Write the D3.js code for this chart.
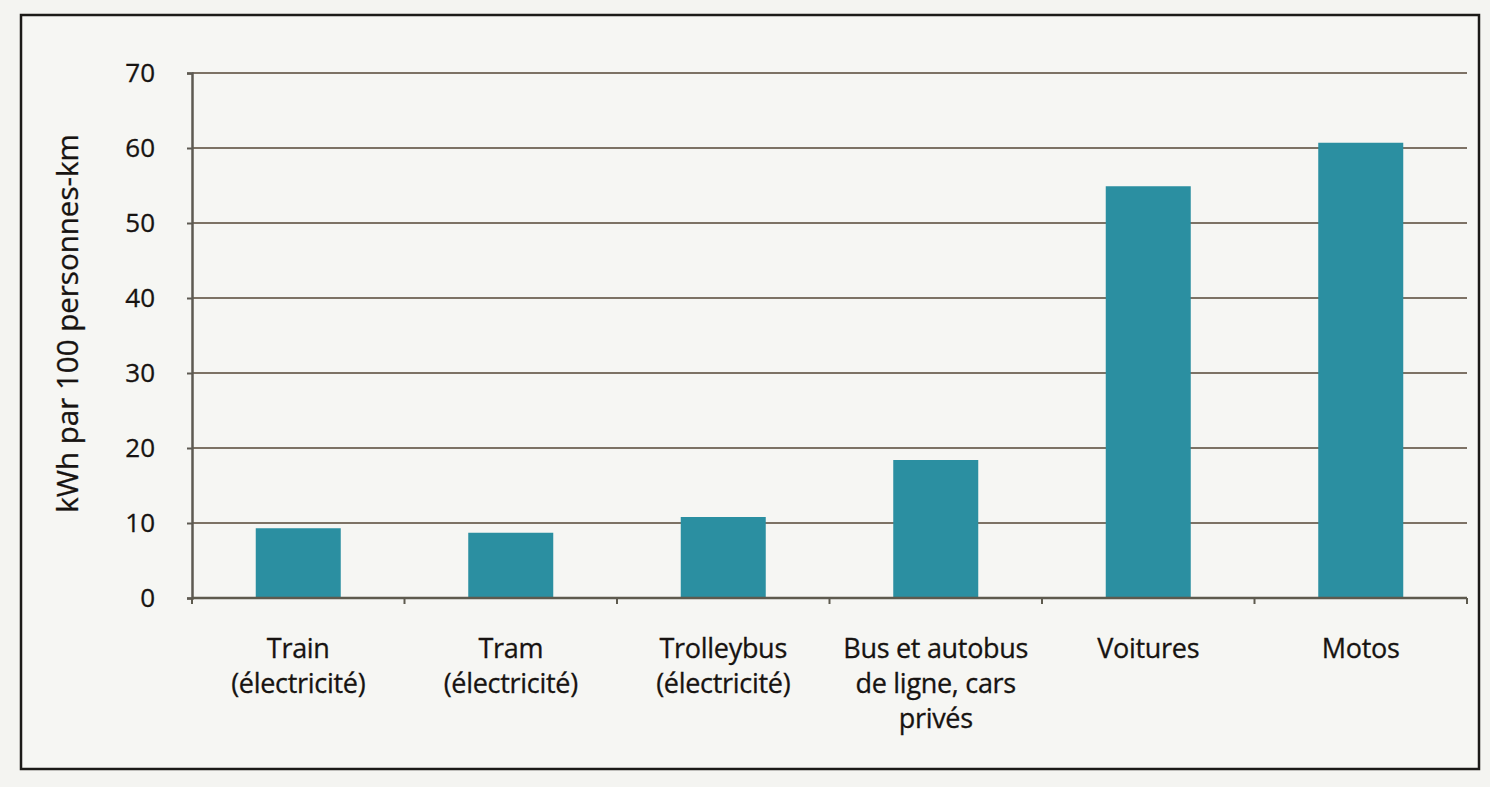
<!DOCTYPE html>
<html>
<head>
<meta charset="utf-8">
<script src="https://cdn.jsdelivr.net/npm/d3@7"></script>
<style>
  body { margin: 0; background: #f4f4f1; }
  svg { display: block; }
  text { font-family: "Open Sans", "Noto Sans", sans-serif; fill: #171311; }
</style>
</head>
<body>
<svg width="1490" height="787"></svg>
<script>
// data
var categories = ["Train|(électricité)", "Tram|(électricité)", "Trolleybus|(électricité)",
                  "Bus et autobus|de ligne, cars|privés", "Voitures", "Motos"];
var values = [9.3, 8.7, 10.8, 18.4, 54.9, 60.7];
var yTicks = [0, 10, 20, 30, 40, 50, 60, 70];
var yTitle = "kWh par 100 personnes-km";

var svg = d3.select("svg"),
    width = +svg.attr("width"),
    height = +svg.attr("height");

var margin = {left: 192, right: 23, top: 73, bottom: 189};

// frame around the whole figure
svg.append("rect")
    .attr("x", 21).attr("y", 15)
    .attr("width", 1458).attr("height", 754)
    .attr("fill", "#f6f6f3")
    .attr("stroke", "#1c1a18")
    .attr("stroke-width", 2.5);

var x = d3.scaleBand()
    .domain(categories)
    .range([margin.left, width - margin.right])
    .paddingInner(0.6)
    .paddingOuter(0.3);

var y = d3.scaleLinear()
    .domain([0, 70])
    .range([height - margin.bottom, margin.top]);

var g = svg.append("g");

// horizontal gridlines
g.selectAll(".grid")
    .data(yTicks.slice(1))
    .enter().append("line")
    .attr("class", "grid")
    .attr("x1", margin.left).attr("x2", width - margin.right)
    .attr("y1", function (d) {return y(d);})
    .attr("y2", function (d) {return y(d);})
    .attr("stroke", "#7d7265")
    .attr("stroke-width", 2);

// bars
g.selectAll(".bar")
    .data(values)
    .enter().append("rect")
    .attr("class", "bar")
    .attr("x", function (d, i) {return x(categories[i]);})
    .attr("width", x.bandwidth())
    .attr("y", function (d) {return y(d);})
    .attr("height", function (d) {return y(0) - y(d);})
    .attr("fill", "#2b8fa1");

// y axis
var yAxis = g.append("g")
    .attr("transform", "translate(" + margin.left + ",0)")
    .call(d3.axisLeft(y).tickValues(yTicks).tickSize(5).tickPadding(32));
yAxis.select(".domain").attr("stroke", "#5e5a52").attr("stroke-width", 2.5);
yAxis.selectAll(".tick line").attr("stroke", "#5e5a52").attr("stroke-width", 2);
yAxis.selectAll(".tick text")
    .attr("font-size", 26)
    .attr("font-family", "Open Sans, sans-serif")
    .attr("fill", "#171311")
    .attr("stroke", "#171311")
    .attr("stroke-width", 0.3);

// x axis: line plus ticks at band boundaries
var bounds = d3.range(categories.length + 1).map(function (i) {
    return margin.left + i * (width - margin.left - margin.right) / categories.length;
});
g.append("line")
    .attr("x1", margin.left).attr("x2", width - margin.right)
    .attr("y1", y(0)).attr("y2", y(0))
    .attr("stroke", "#5e5a4e").attr("stroke-width", 2.5);
g.selectAll(".xtick")
    .data(bounds)
    .enter().append("line")
    .attr("class", "xtick")
    .attr("x1", function (d) {return d;}).attr("x2", function (d) {return d;})
    .attr("y1", y(0)).attr("y2", y(0) + 6)
    .attr("stroke", "#5e5a4e").attr("stroke-width", 2);

// category labels
var labels = g.selectAll(".xlabel")
    .data(categories)
    .enter().append("text")
    .attr("class", "xlabel")
    .attr("text-anchor", "middle")
    .attr("font-size", 27)
    .attr("letter-spacing", -0.3)
    .attr("stroke", "#171311")
    .attr("stroke-width", 0.3)
    .attr("x", function (d) {return x(d) + x.bandwidth() / 2;})
    .attr("y", y(0) + 60);
labels.each(function (d) {
    var t = d3.select(this);
    d.split("|").forEach(function (line, k) {
        t.append("tspan")
            .attr("x", t.attr("x"))
            .attr("dy", k === 0 ? 0 : 35)
            .text(line);
    });
});

// y title
svg.append("text")
    .attr("transform", "translate(78," + (y(35) - 12) + ") rotate(-90)")
    .attr("text-anchor", "middle")
    .attr("font-size", 29.5)
    .attr("stroke", "#171311")
    .attr("stroke-width", 0.3)
    .text(yTitle);
</script>
</body>
</html>
